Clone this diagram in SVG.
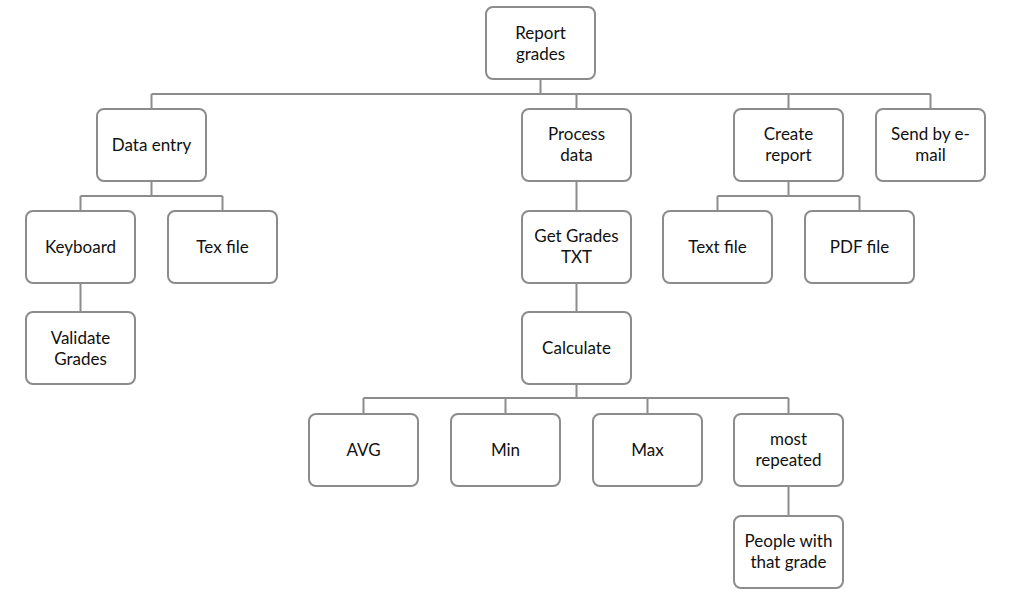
<svg xmlns="http://www.w3.org/2000/svg" width="1014" height="602" viewBox="0 0 1014 602">
<style>
.b{fill:#fff;stroke:#8c8c8c;stroke-width:2}
.t{font-family:Lato,"Open Sans",sans-serif;font-size:17px;fill:#111;text-anchor:middle}
.c{fill:none;stroke:#8c8c8c;stroke-width:2}
</style>
<rect width="1014" height="602" fill="#fff"/>
<g id="connectors">
<path class="c" d="M540.5 79V94M151.5 94H930.5M151.5 94V109M576.5 94V109M788.5 94V109M930.5 94V109"/>
<path class="c" d="M151.5 181V196M80.5 196H222.5M80.5 196V211M222.5 196V211M80.5 283V312"/>
<path class="c" d="M576.5 181V211M576.5 283V312M576.5 384V398M363.5 398H788.5M363.5 398V414M505.5 398V414M647.5 398V414M788.5 398V414M788.5 486V516"/>
<path class="c" d="M788.5 181V196M717.5 196H859.5M717.5 196V211M859.5 196V211"/>
</g>
<g id="n-report"><rect class="b" x="486" y="7" width="109" height="72" rx="7"/><text class="t" x="540.5" y="39">Report</text><text class="t" x="540.5" y="60">grades</text></g>
<g id="n-dataentry"><rect class="b" x="97" y="109" width="109" height="72" rx="7"/><text class="t" x="151.5" y="151">Data entry</text></g>
<g id="n-process"><rect class="b" x="522" y="109" width="109" height="72" rx="7"/><text class="t" x="576.5" y="140">Process</text><text class="t" x="576.5" y="161">data</text></g>
<g id="n-create"><rect class="b" x="734" y="109" width="109" height="72" rx="7"/><text class="t" x="788.5" y="140">Create</text><text class="t" x="788.5" y="161">report</text></g>
<g id="n-send"><rect class="b" x="876" y="109" width="109" height="72" rx="7"/><text class="t" x="930.5" y="140">Send by e-</text><text class="t" x="930.5" y="161">mail</text></g>
<g id="n-keyboard"><rect class="b" x="26" y="211" width="109" height="72" rx="7"/><text class="t" x="80.5" y="253">Keyboard</text></g>
<g id="n-texfile"><rect class="b" x="168" y="211" width="109" height="72" rx="7"/><text class="t" x="222.5" y="253">Tex file</text></g>
<g id="n-getgrades"><rect class="b" x="522" y="211" width="109" height="72" rx="7"/><text class="t" x="576.5" y="242">Get Grades</text><text class="t" x="576.5" y="263">TXT</text></g>
<g id="n-textfile"><rect class="b" x="663" y="211" width="109" height="72" rx="7"/><text class="t" x="717.5" y="253">Text file</text></g>
<g id="n-pdffile"><rect class="b" x="805" y="211" width="109" height="72" rx="7"/><text class="t" x="859.5" y="253">PDF file</text></g>
<g id="n-validate"><rect class="b" x="26" y="312" width="109" height="72" rx="7"/><text class="t" x="80.5" y="344">Validate</text><text class="t" x="80.5" y="365">Grades</text></g>
<g id="n-calculate"><rect class="b" x="522" y="312" width="109" height="72" rx="7"/><text class="t" x="576.5" y="354">Calculate</text></g>
<g id="n-avg"><rect class="b" x="309" y="414" width="109" height="72" rx="7"/><text class="t" x="363.5" y="456">AVG</text></g>
<g id="n-min"><rect class="b" x="451" y="414" width="109" height="72" rx="7"/><text class="t" x="505.5" y="456">Min</text></g>
<g id="n-max"><rect class="b" x="593" y="414" width="109" height="72" rx="7"/><text class="t" x="647.5" y="456">Max</text></g>
<g id="n-most"><rect class="b" x="734" y="414" width="109" height="72" rx="7"/><text class="t" x="788.5" y="445">most</text><text class="t" x="788.5" y="466">repeated</text></g>
<g id="n-people"><rect class="b" x="734" y="516" width="109" height="72" rx="7"/><text class="t" x="788.5" y="547">People with</text><text class="t" x="788.5" y="568">that grade</text></g>
</svg>
